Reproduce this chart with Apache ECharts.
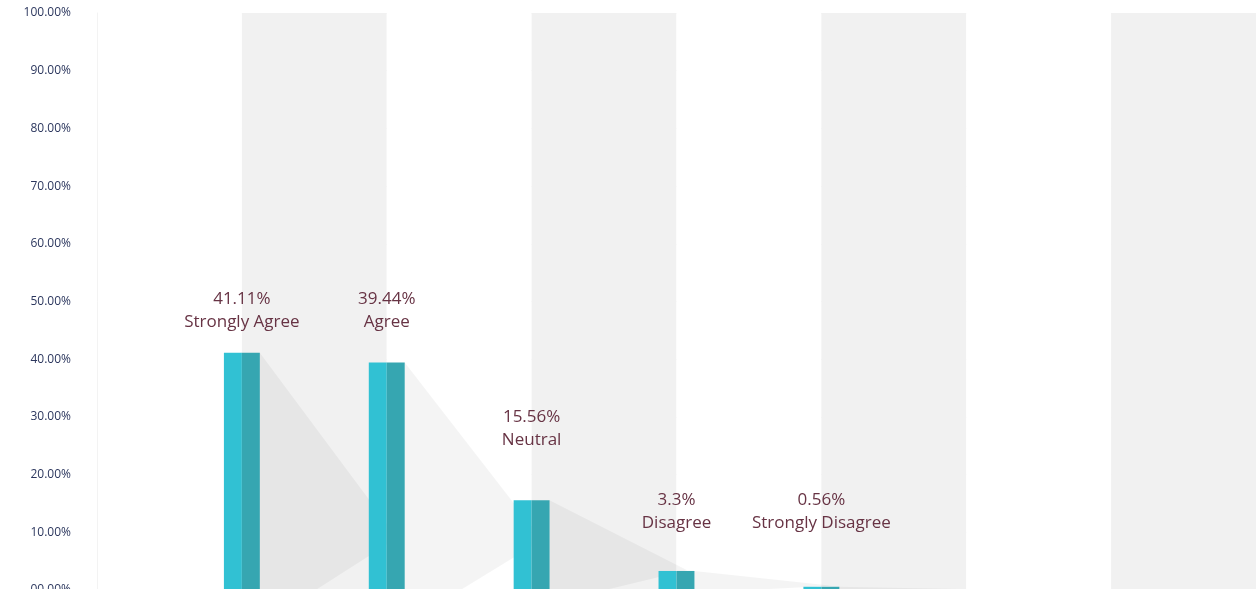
<!DOCTYPE html>
<html><head><meta charset="utf-8">
<script src="https://cdn.jsdelivr.net/npm/echarts@6/dist/echarts.min.js"></script>
<style>html,body{margin:0;padding:0;background:#fff;overflow:hidden}#c{width:1256px;height:589px}</style>
</head><body><div id="c"></div>
<script>
// ---- data ----
const categories = ["Strongly Agree", "Agree", "Neutral", "Disagree", "Strongly Disagree"];
const values = [41.11, 39.44, 15.56, 3.3, 0.56];
const valueLabels = ["41.11%", "39.44%", "15.56%", "3.3%", "0.56%"];
const yTickLabels = ["00.00%", "10.00%", "20.00%", "30.00%", "40.00%", "50.00%", "60.00%", "70.00%", "80.00%", "90.00%", "100.00%"];

// ---- layout (not data) ----
const labelLevels = [48.4, 48.4, 28.0, 13.6, 13.6]; // y-level where each label block is centred
const HW = 0.124;       // half bar width, in x-slot units
const APEX_DX = 0.95, APEX_FY = 0.22, GROUND_DX = 0.386;

const seriesData = categories.map((c, i) => [i + 1, values[i], i]);

const chart = echarts.init(document.getElementById('c'), null, {renderer: 'canvas'});
chart.setOption({
  animation: false,
  backgroundColor: '#ffffff',
  grid: {left: 97, top: 13, width: 1159, height: 577, containLabel: false, outerBoundsMode: 'none'},
  xAxis: {
    type: 'value', min: 0, max: 8, interval: 1,
    axisLabel: {show: false}, axisTick: {show: false}, axisLine: {show: false},
    splitLine: {show: false},
    splitArea: {show: true, areaStyle: {color: ['#ffffff', '#f1f1f1']}}
  },
  yAxis: {
    type: 'value', min: 0, max: 100, interval: 10,
    axisLine: {show: true, lineStyle: {color: '#f3f3f3', width: 1}},
    axisTick: {show: false},
    splitLine: {show: true, lineStyle: {color: 'rgba(0,0,0,0.05)', width: 1}},
    axisLabel: {
      margin: 26, color: '#2c375e', fontSize: 12, fontFamily: 'Open Sans',
      formatter: v => yTickLabels[Math.round(v / 10)]
    }
  },
  series: [
    { // long shadows
      type: 'custom', z: 2, clip: true,
      data: seriesData,
      encode: {x: 0, y: 1},
      renderItem: (params, api) => {
        const x = api.value(0), v = api.value(1);
        const pts = [
          api.coord([x + HW, v]),
          api.coord([x + HW + APEX_DX, v * APEX_FY]),
          api.coord([x + HW + GROUND_DX, 0]),
          api.coord([x + HW, 0])
        ];
        return {type: 'polygon', shape: {points: pts}, style: {fill: 'rgba(0,0,0,0.042)'}};
      }
    },
    { // two-tone bars
      type: 'custom', z: 3, clip: false,
      data: seriesData,
      encode: {x: 0, y: 1},
      renderItem: (params, api) => {
        const x = api.value(0), v = api.value(1);
        const l = api.coord([x - HW, v]);
        const m = api.coord([x, 0]);
        const r = api.coord([x + HW, 0]);
        return {
          type: 'group', children: [
            {type: 'rect', shape: {x: l[0], y: l[1], width: m[0] - l[0], height: m[1] - l[1]}, style: {fill: '#31c1d3'}},
            {type: 'rect', shape: {x: m[0], y: l[1], width: r[0] - m[0], height: m[1] - l[1]}, style: {fill: '#36a6b1'}}
          ]
        };
      }
    },
    { // labels
      type: 'custom', z: 4, clip: false,
      data: seriesData,
      encode: {x: 0, y: 1},
      renderItem: (params, api) => {
        const x = api.value(0), i = api.value(2);
        const p = api.coord([x, labelLevels[i]]);
        return {
          type: 'text',
          style: {
            text: valueLabels[i] + '\n' + categories[i],
            x: p[0], y: p[1], align: 'center', verticalAlign: 'middle',
            fill: '#673344', font: '17px "Open Sans"', lineHeight: 23
          }
        };
      }
    }
  ]
});
</script></body></html>
